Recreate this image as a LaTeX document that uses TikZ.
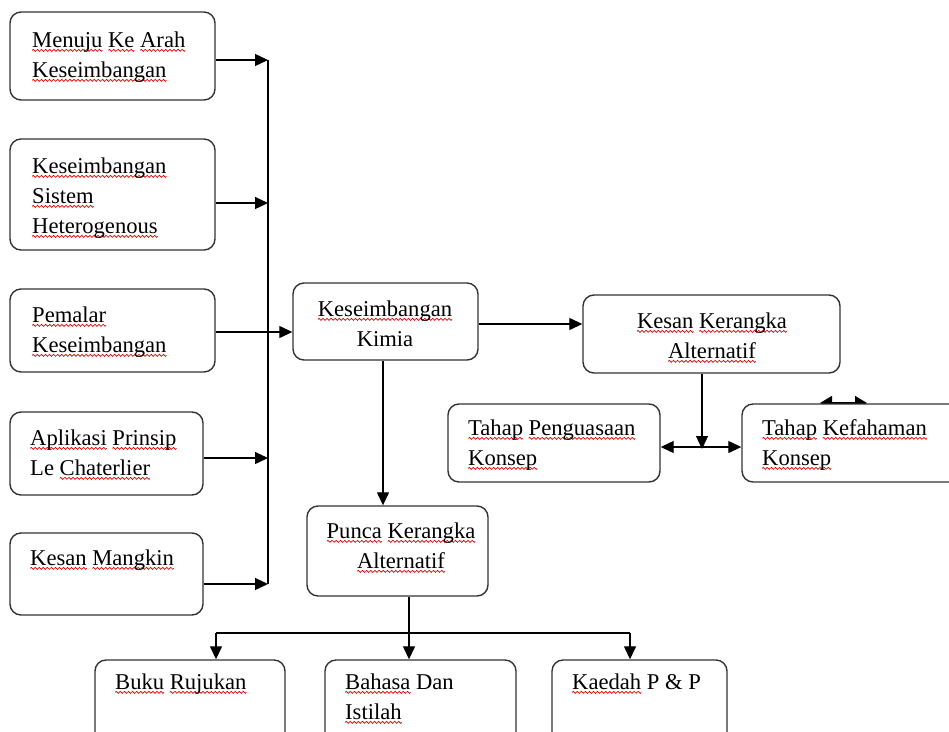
\documentclass[tikz,border=0pt]{standalone}
\usepackage{fontspec}
\setmainfont{Liberation Serif}
\usetikzlibrary{arrows.meta}
\newsavebox\wavebox
\newsavebox\sqbox
\newcommand\sq[1]{\sbox\sqbox{#1}\rlap{\raisebox{-4.5pt}{\hbox to \wd\sqbox{\xleaders\copy\wavebox\hfil}}}\usebox\sqbox}
\newcommand\T{\rule{0pt}{18pt}}
\newcommand\mkbox[5]{\node[boxst, minimum width={#4-#2}, minimum height={#5-#3}] (#1) at ({(#2+#4)/2},{(#3+#5)/2}) {};}
\begin{document}
\sbox\wavebox{\hbox to 4pt{\hss\begin{pgfpicture}\pgfsetlinewidth{0.7pt}\pgfsetstrokecolor{red!85!black}\pgfpathmoveto{\pgfpoint{0pt}{0pt}}\pgfpathsine{\pgfpoint{1pt}{1pt}}\pgfpathcosine{\pgfpoint{1pt}{-1pt}}\pgfpathsine{\pgfpoint{1pt}{-1pt}}\pgfpathcosine{\pgfpoint{1pt}{1pt}}\pgfusepath{stroke}\end{pgfpicture}\hss}}%
\begin{tikzpicture}[x=1pt,y=-1pt,
  boxst/.style={draw=black!80, fill=white, line width=1.4pt, rounded corners=11pt, inner sep=0pt, shape=rectangle},
  lbl/.style={inner sep=0pt, align=left, anchor=north west, font=\fontsize{22.6}{30}\selectfont},
  clbl/.style={inner sep=0pt, align=center, anchor=north, font=\fontsize{22.6}{30}\selectfont},
  conn/.style={line width=1.3pt, black},
  arr/.style={conn, -{Triangle[length=13pt,width=12pt]}},
  darr/.style={conn, {Triangle[length=13pt,width=12pt]}-{Triangle[length=13pt,width=12pt]}}]
\useasboundingbox (0,0) rectangle (949,731);
\fill[white] (0,0) rectangle (949,731);

% left column boxes
\mkbox{b1}{10}{12}{215}{100}
\mkbox{b2}{10}{139}{215}{250}
\mkbox{b3}{10}{289}{215}{372}
\mkbox{b4}{10}{412}{203}{495}
\mkbox{b5}{10}{533}{203}{615}
\node[lbl] (t1) at (32,29) {\T\sq{Menuju} \sq{Ke} \sq{Arah}\\\sq{Keseimbangan}};
\node[lbl] (t2) at (32,155) {\T\sq{Keseimbangan}\\\sq{Sistem}\\\sq{Heterogenous}};
\node[lbl] (t3) at (32,304) {\T\sq{Pemalar}\\\sq{Keseimbangan}};
\node[lbl] (t4) at (30,427) {\T\sq{Aplikasi} \sq{Prinsip}\\Le \sq{Chaterlier}};
\node[lbl] (t5) at (30,547) {\T\sq{Kesan} \sq{Mangkin}};

% centre boxes
\mkbox{kimia}{293}{283}{478}{360}
\node[clbl] (tk1) at (385,298) {\T\sq{Keseimbangan}\\Kimia};
\mkbox{kesan}{583}{295}{840}{373}
\node[clbl] (tk2) at (712,310) {\T\sq{Kesan} \sq{Kerangka}\\\sq{Alternatif}};
\mkbox{tp}{448}{404}{660}{482}
\node[lbl] (tt1) at (468,417) {\T\sq{Tahap} \sq{Penguasaan}\\\sq{Konsep}};

% small double arrow above Tahap Kefahaman
\coordinate (sa) at (820,403);
\coordinate (sb) at (867,403);
\draw[conn, {Triangle[length=12pt,width=14pt]}-{Triangle[length=12pt,width=14pt]}] (sa) -- (sb);

\mkbox{tk}{742}{404}{965}{482}
\node[lbl] (tt2) at (762,417) {\T\sq{Tahap} \sq{Kefahaman}\\\sq{Konsep}};
\mkbox{punca}{307}{506}{488}{596}
\node[clbl] (tp1) at (401,520) {\T\sq{Punca} \sq{Kerangka}\\\sq{Alternatif}};

% bottom boxes
\mkbox{buku}{95}{660}{285}{750}
\node[lbl] (tb1) at (115,671) {\T\sq{Buku} \sq{Rujukan}};
\mkbox{bahasa}{325}{660}{516}{750}
\node[lbl] (tb2) at (345,671) {\T\sq{Bahasa} Dan\\\sq{Istilah}};
\mkbox{kaedah}{552}{660}{727}{750}
\node[lbl] (tb3) at (572,671) {\T\sq{Kaedah} P \& P};

% bus on the left
\coordinate (j1) at (268,60);
\coordinate (j2) at (268,203);
\coordinate (j3) at (268,332);
\coordinate (j4) at (268,458);
\coordinate (j5) at (268,584);
\draw[conn] (j1) -- (j5);
\draw[arr] (b1.east |- j1) -- (j1);
\draw[arr] (b2.east |- j2) -- (j2);
\draw[arr] (b3.east |- j3) -- (kimia.west |- j3);
\draw[arr] (b4.east |- j4) -- (j4);
\draw[arr] (b5.east |- j5) -- (j5);

% kimia connections
\coordinate (kk) at (0,324);
\draw[arr] (kimia.east |- kk) -- (kesan.west |- kk);
\coordinate (dp) at (383,0);
\draw[arr] (kimia.south -| dp) -- (punca.north -| dp);

% kesan to tahap
\coordinate (mm) at (702,447);
\draw[arr] (kesan.south -| mm) -- ([yshift=-2pt]mm);
\draw[darr] (tp.east |- mm) -- (tk.west |- mm);

% punca to bottom
\coordinate (hb) at (409,633);
\coordinate (hl) at (216,633);
\coordinate (hr) at (630,633);
\draw[conn] (punca.south -| hb) -- (hb);
\draw[conn] (hl) -- (hr);
\draw[arr] (hb) -- (bahasa.north -| hb);
\draw[arr] (hl) -- (buku.north -| hl);
\draw[arr] (hr) -- (kaedah.north -| hr);
\end{tikzpicture}
\end{document}
